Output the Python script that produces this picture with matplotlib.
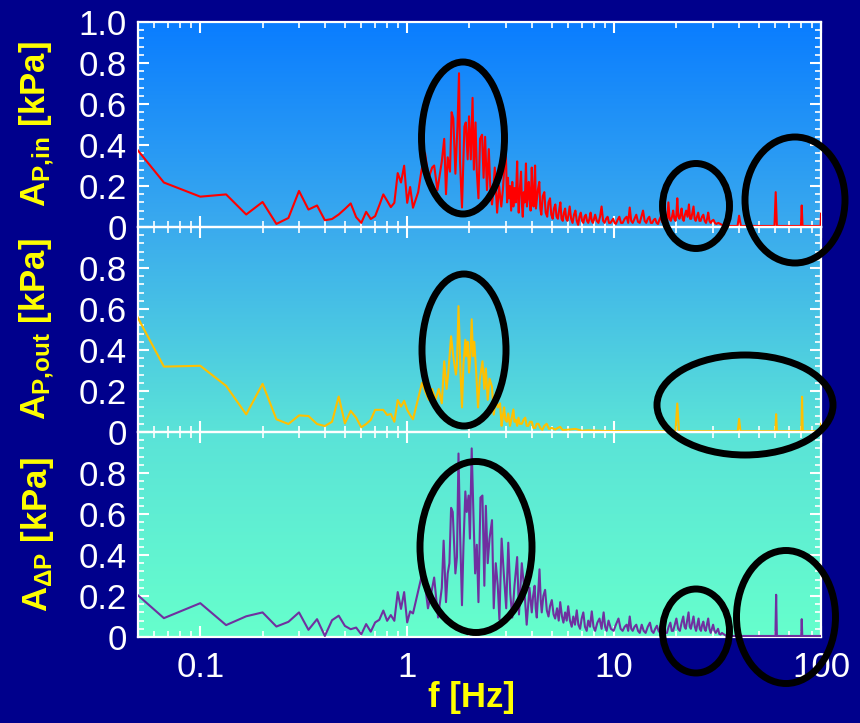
import numpy as np
import matplotlib.pyplot as plt
from matplotlib.patches import Ellipse
from matplotlib.ticker import MultipleLocator, LogLocator, NullFormatter, FuncFormatter
from matplotlib.colors import LinearSegmentedColormap

# frequency bins below ~1 Hz (shared by all three spectra)
f_low = [0.0333, 0.0667, 0.1, 0.1333, 0.1667, 0.2, 0.2333, 0.2667, 0.3, 0.3333,
         0.3667, 0.4, 0.4333, 0.4667, 0.5, 0.5333, 0.5667, 0.6, 0.6333, 0.6667,
         0.7, 0.7333, 0.7667, 0.8, 0.8333, 0.8667, 0.9, 0.9333, 0.9667, 1.0,
         1.0333, 1.0667]

a_in_low = [0.593, 0.217, 0.148, 0.159, 0.061, 0.122, 0.015, 0.044, 0.176, 0.085,
            0.105, 0.033, 0.039, 0.061, 0.088, 0.115, 0.048, 0.02, 0.074, 0.039,
            0.053, 0.106, 0.159, 0.128, 0.097, 0.118, 0.263, 0.217, 0.299, 0.118,
            0.195, 0.094]
a_out_low = [0.89, 0.319, 0.323, 0.225, 0.086, 0.235, 0.062, 0.039, 0.081, 0.078,
             0.039, 0.029, 0.05, 0.173, 0.042, 0.103, 0.07, 0.023, 0.039, 0.059,
             0.108, 0.108, 0.108, 0.083, 0.088, 0.05, 0.156, 0.124, 0.152, 0.108,
             0.083, 0.062]
a_dp_low = [0.36, 0.092, 0.165, 0.058, 0.101, 0.12, 0.051, 0.074, 0.12, 0.035,
            0.087, 0.005, 0.082, 0.104, 0.054, 0.038, 0.046, 0.013, 0.063, 0.026,
            0.071, 0.084, 0.129, 0.079, 0.107, 0.079, 0.219, 0.137, 0.219, 0.071,
            0.125, 0.115]

# (frequency Hz, amplitude kPa) above 1 Hz, P,in
in_hi = [
    (1.13, 0.17), (1.17, 0.27), (1.22, 0.36), (1.27, 0.24), (1.32, 0.29), (1.35, 0.30),
    (1.40, 0.18), (1.47, 0.32), (1.51, 0.43), (1.54, 0.16), (1.57, 0.34), (1.61, 0.27),
    (1.64, 0.56), (1.67, 0.53), (1.71, 0.26), (1.75, 0.49), (1.78, 0.75), (1.80, 0.32),
    (1.84, 0.095), (1.89, 0.49), (1.92, 0.51), (1.96, 0.33), (1.99, 0.54), (2.03, 0.33),
    (2.07, 0.63), (2.10, 0.28), (2.14, 0.51), (2.17, 0.27), (2.21, 0.14), (2.25, 0.43),
    (2.30, 0.45), (2.34, 0.24), (2.38, 0.44), (2.43, 0.18), (2.48, 0.38), (2.52, 0.20),
    (2.57, 0.11), (2.60, 0.16), (2.65, 0.29), (2.72, 0.07), (2.78, 0.20), (2.85, 0.10),
    (2.90, 0.18), (2.95, 0.30), (3.00, 0.35), (3.04, 0.12), (3.07, 0.24), (3.10, 0.14),
    (3.14, 0.20), (3.18, 0.08), (3.22, 0.22), (3.26, 0.10), (3.30, 0.19), (3.35, 0.12),
    (3.40, 0.32), (3.43, 0.15), (3.46, 0.07), (3.50, 0.18), (3.55, 0.27), (3.59, 0.10),
    (3.62, 0.05), (3.66, 0.17), (3.70, 0.12), (3.75, 0.31), (3.79, 0.10), (3.83, 0.14),
    (3.87, 0.22), (3.90, 0.16), (3.95, 0.08), (4.00, 0.29), (4.04, 0.15), (4.08, 0.10),
    (4.12, 0.20), (4.15, 0.30), (4.19, 0.09), (4.22, 0.12), (4.28, 0.18), (4.35, 0.22),
    (4.40, 0.09), (4.45, 0.06), (4.52, 0.15), (4.60, 0.17), (4.67, 0.07), (4.75, 0.05),
    (4.82, 0.12), (4.90, 0.14), (4.97, 0.06), (5.05, 0.04), (5.12, 0.09), (5.20, 0.11),
    (5.27, 0.05), (5.35, 0.04), (5.42, 0.08), (5.50, 0.12), (5.57, 0.04), (5.65, 0.03),
    (5.72, 0.07), (5.80, 0.09), (5.87, 0.04), (5.95, 0.03), (6.02, 0.06), (6.10, 0.10),
    (6.20, 0.04), (6.30, 0.02), (6.40, 0.06), (6.50, 0.08), (6.60, 0.03), (6.70, 0.01),
    (6.80, 0.05), (6.90, 0.07), (7.00, 0.03), (7.10, 0.02), (7.20, 0.05), (7.30, 0.06),
    (7.40, 0.03), (7.50, 0.02), (7.60, 0.04), (7.70, 0.07), (7.80, 0.03), (7.90, 0.02),
    (8.00, 0.04), (8.10, 0.06), (8.25, 0.03), (8.40, 0.02), (8.55, 0.05), (8.70, 0.10),
    (8.85, 0.03), (9.00, 0.02), (9.15, 0.04), (9.30, 0.05), (9.45, 0.02), (9.60, 0.02),
    (9.75, 0.03), (9.90, 0.04), (10.05, 0.02), (10.2, 0.015), (10.4, 0.035), (10.6, 0.05),
    (10.8, 0.02), (11.0, 0.02), (11.25, 0.04), (11.5, 0.05), (11.7, 0.02), (11.9, 0.095),
    (12.1, 0.03), (12.3, 0.02), (12.55, 0.04), (12.8, 0.06), (13.05, 0.025), (13.3, 0.02),
    (13.55, 0.05), (13.8, 0.08), (14.05, 0.03), (14.3, 0.02), (14.55, 0.04), (14.8, 0.05),
    (15.05, 0.02), (15.3, 0.02), (15.55, 0.035), (15.8, 0.04), (16.05, 0.02), (16.3, 0.015),
    (16.55, 0.035), (16.8, 0.05), (17.05, 0.025), (17.3, 0.02), (17.55, 0.04), (17.8, 0.06),
    (18.05, 0.03), (18.3, 0.12), (18.55, 0.04), (18.8, 0.03), (19.05, 0.05), (19.3, 0.08),
    (19.55, 0.04), (19.8, 0.03), (20.0, 0.06), (20.2, 0.14), (20.45, 0.05), (20.7, 0.04),
    (20.95, 0.06), (21.2, 0.09), (21.45, 0.04), (21.7, 0.03), (22.0, 0.06), (22.3, 0.08),
    (22.65, 0.05), (23.0, 0.11), (23.3, 0.04), (23.6, 0.04), (23.9, 0.07), (24.2, 0.10),
    (24.5, 0.04), (24.8, 0.03), (25.15, 0.05), (25.5, 0.07), (25.85, 0.03), (26.2, 0.03),
    (26.6, 0.05), (27.0, 0.06), (27.4, 0.03), (27.8, 0.02), (28.15, 0.04), (28.5, 0.07),
    (28.9, 0.03), (29.3, 0.02), (29.75, 0.03), (30.2, 0.035), (30.7, 0.02), (31.2, 0.015),
    (31.9, 0.02), (32.6, 0.015), (33.3, 0.01), (34.0, 0.008), (36.0, 0.005), (39.5, 0.005),
    (40.2, 0.055), (41.0, 0.005), (50.0, 0.005), (59.6, 0.005), (60.4, 0.17), (61.2, 0.005),
    (70.0, 0.005), (80.0, 0.005), (80.7, 0.105), (81.4, 0.005), (95.0, 0.005), (99.5, 0.005),
    (100.0, 0.065)]

# P,out above 1 Hz
out_hi = [
    (1.18, 0.24), (1.23, 0.19), (1.27, 0.157), (1.32, 0.21), (1.37, 0.157), (1.42, 0.21),
    (1.47, 0.14), (1.51, 0.345), (1.55, 0.21), (1.58, 0.29), (1.63, 0.467), (1.67, 0.37),
    (1.72, 0.28), (1.74, 0.33), (1.77, 0.614), (1.81, 0.29), (1.84, 0.12), (1.87, 0.33),
    (1.91, 0.45), (1.93, 0.37), (1.96, 0.44), (1.99, 0.29), (2.02, 0.37), (2.05, 0.55),
    (2.08, 0.37), (2.11, 0.44), (2.15, 0.31), (2.20, 0.12), (2.24, 0.25), (2.31, 0.345),
    (2.36, 0.21), (2.40, 0.31), (2.45, 0.157), (2.50, 0.26), (2.57, 0.22), (2.62, 0.085),
    (2.68, 0.157), (2.74, 0.12), (2.81, 0.14), (2.86, 0.03), (2.90, 0.08), (2.94, 0.12),
    (2.98, 0.06), (3.03, 0.05), (3.08, 0.09), (3.14, 0.03), (3.20, 0.07), (3.26, 0.11),
    (3.30, 0.05), (3.35, 0.06), (3.40, 0.03), (3.45, 0.07), (3.50, 0.04), (3.58, 0.04),
    (3.65, 0.06), (3.72, 0.07), (3.78, 0.03), (3.85, 0.03), (3.92, 0.05), (4.00, 0.05),
    (4.07, 0.02), (4.15, 0.02), (4.23, 0.04), (4.31, 0.04), (4.40, 0.02), (4.50, 0.01),
    (4.60, 0.03), (4.72, 0.04), (4.85, 0.015), (5.00, 0.02), (5.20, 0.012), (5.35, 0.02),
    (5.49, 0.025), (5.65, 0.008), (5.80, 0.01), (6.10, 0.012), (6.50, 0.015), (7.00, 0.006),
    (7.50, 0.008), (9.00, 0.005), (12.0, 0.004), (19.8, 0.004), (20.2, 0.139), (20.6, 0.004),
    (30.0, 0.004), (39.6, 0.004), (40.2, 0.064), (40.8, 0.004), (50.0, 0.004), (60.2, 0.004),
    (60.7, 0.087), (61.2, 0.004), (70.0, 0.004), (80.4, 0.004), (81.0, 0.172), (81.6, 0.004),
    (95.0, 0.004), (99.4, 0.004), (100.0, 0.04)]

# delta P above 1 Hz
dp_hi = [
    (1.17, 0.29), (1.21, 0.28), (1.26, 0.14), (1.31, 0.22), (1.35, 0.29), (1.41, 0.095),
    (1.47, 0.24), (1.50, 0.47), (1.54, 0.17), (1.57, 0.31), (1.60, 0.36), (1.63, 0.63),
    (1.66, 0.61), (1.71, 0.31), (1.74, 0.39), (1.77, 0.895), (1.80, 0.52), (1.84, 0.155),
    (1.87, 0.44), (1.91, 0.71), (1.94, 0.61), (1.98, 0.69), (2.01, 0.48), (2.05, 0.92),
    (2.09, 0.60), (2.13, 0.31), (2.17, 0.45), (2.21, 0.17), (2.26, 0.68), (2.31, 0.69),
    (2.36, 0.25), (2.40, 0.64), (2.45, 0.36), (2.50, 0.48), (2.57, 0.57), (2.62, 0.14),
    (2.68, 0.36), (2.74, 0.25), (2.79, 0.085), (2.86, 0.48), (2.93, 0.31), (3.01, 0.14),
    (3.08, 0.46), (3.15, 0.21), (3.22, 0.095), (3.30, 0.25), (3.40, 0.39), (3.47, 0.11),
    (3.58, 0.36), (3.69, 0.22), (3.78, 0.06), (3.90, 0.24), (4.00, 0.12), (4.06, 0.20),
    (4.13, 0.25), (4.18, 0.14), (4.23, 0.095), (4.30, 0.22), (4.36, 0.33), (4.42, 0.18),
    (4.47, 0.12), (4.55, 0.20), (4.64, 0.23), (4.73, 0.13), (4.82, 0.10), (4.90, 0.15),
    (5.00, 0.18), (5.10, 0.11), (5.19, 0.09), (5.30, 0.14), (5.40, 0.08), (5.49, 0.17),
    (5.60, 0.10), (5.69, 0.07), (5.80, 0.12), (5.90, 0.08), (6.00, 0.15), (6.12, 0.08),
    (6.24, 0.05), (6.35, 0.10), (6.47, 0.06), (6.60, 0.13), (6.72, 0.06), (6.85, 0.04),
    (6.97, 0.09), (7.10, 0.12), (7.23, 0.05), (7.37, 0.03), (7.50, 0.08), (7.65, 0.05),
    (7.80, 0.125), (7.95, 0.05), (8.10, 0.03), (8.30, 0.07), (8.50, 0.09), (8.70, 0.04),
    (8.90, 0.12), (9.05, 0.05), (9.20, 0.03), (9.40, 0.08), (9.65, 0.04), (9.95, 0.03),
    (10.2, 0.06), (10.5, 0.09), (10.75, 0.04), (11.0, 0.03), (11.25, 0.05), (11.5, 0.06),
    (11.7, 0.03), (11.9, 0.10), (12.1, 0.04), (12.3, 0.03), (12.55, 0.05), (12.8, 0.06),
    (13.05, 0.03), (13.3, 0.02), (13.6, 0.06), (13.9, 0.03), (14.2, 0.02), (14.55, 0.05),
    (14.9, 0.07), (15.2, 0.03), (15.5, 0.02), (15.8, 0.04), (16.1, 0.055), (16.4, 0.03),
    (16.7, 0.02), (17.0, 0.04), (17.3, 0.045), (17.65, 0.02), (18.0, 0.02), (18.35, 0.05),
    (18.7, 0.07), (19.0, 0.03), (19.3, 0.03), (19.65, 0.06), (20.0, 0.09), (20.4, 0.04),
    (20.8, 0.03), (21.2, 0.07), (21.6, 0.10), (21.9, 0.05), (22.2, 0.04), (22.55, 0.08),
    (22.9, 0.12), (23.2, 0.05), (23.5, 0.04), (23.85, 0.07), (24.2, 0.10), (24.55, 0.05),
    (24.9, 0.03), (25.25, 0.06), (25.6, 0.09), (25.95, 0.04), (26.3, 0.03), (26.65, 0.06),
    (27.0, 0.075), (27.35, 0.04), (27.7, 0.03), (28.1, 0.06), (28.5, 0.09), (28.9, 0.04),
    (29.3, 0.02), (29.7, 0.04), (30.1, 0.06), (30.55, 0.03), (31.0, 0.02), (31.4, 0.03),
    (31.8, 0.04), (32.25, 0.015), (32.7, 0.012), (33.2, 0.02), (33.7, 0.015), (35.0, 0.005),
    (45.0, 0.005), (60.2, 0.005), (60.7, 0.206), (61.2, 0.005), (75.0, 0.005), (80.2, 0.005),
    (80.7, 0.087), (81.2, 0.005), (100.0, 0.005)]

labels = [r'$\mathbf{A}_{\mathbf{P{,}in}}$ [kPa]',
          r'$\mathbf{A}_{\mathbf{P{,}out}}$ [kPa]',
          r'$\mathbf{A}_{\mathbf{\Delta P}}$ [kPa]']
line_colors = ['#ff0000', '#ffc000', '#7030a0']

# highlight ellipses: centre x, centre y, width, height in pixels from top-left
ellipses = [(463, 138, 83, 152), (696, 206, 67, 85), (795, 200, 100, 126),
            (464, 350, 84, 152), (745, 405, 176, 100),
            (476, 547, 112, 171), (696, 631, 67, 84), (786, 617, 99, 133)]

series = []
for low, hi in [(a_in_low, in_hi), (a_out_low, out_hi), (a_dp_low, dp_hi)]:
    series.append((f_low + [p[0] for p in hi], low + [p[1] for p in hi]))

plt.rcParams['font.family'] = ['Liberation Sans', 'DejaVu Sans']
plt.rcParams['mathtext.fontset'] = 'custom'
plt.rcParams['mathtext.rm'] = 'Liberation Sans'
plt.rcParams['mathtext.bf'] = 'Liberation Sans:bold'
plt.rcParams['mathtext.it'] = 'Liberation Sans:italic'

W, H = 860, 723
navy = '#00008c'
fig = plt.figure(figsize=(W / 100, H / 100), dpi=100, facecolor=navy)

left, right = 138 / W, 821 / W
bottom, top = 1 - 637 / H, 1 - 22 / H

# gradient background behind all panels
bg = fig.add_axes([left, bottom, right - left, top - bottom], zorder=0)
cmap = LinearSegmentedColormap.from_list(
    'bg', [(0.0, '#0a7dff'), (0.33, '#3aaaee'), (0.66, '#5ae2d8'), (1.0, '#66ffcc')])
bg.imshow(np.linspace(0, 1, 256)[:, None], aspect='auto', cmap=cmap,
          extent=[0, 1, 0, 1], origin='upper')
bg.axis('off')

ph = (top - bottom) / 3
for i in range(3):
    ax = fig.add_axes([left, top - (i + 1) * ph, right - left, ph], zorder=1)
    ax.set_facecolor('none')
    f, a = series[i]
    ax.plot(f, a, color=line_colors[i], lw=1.5, zorder=3)
    ax.set_xscale('log')
    ax.set_xlim(0.05, 100)
    ax.set_ylim(0, 1.0)
    ax.xaxis.set_major_locator(LogLocator(base=10, numticks=10))
    ax.xaxis.set_minor_locator(LogLocator(base=10, subs=np.arange(2, 10), numticks=20))
    ax.xaxis.set_minor_formatter(NullFormatter())
    if i == 0:
        ax.set_yticks([0, 0.2, 0.4, 0.6, 0.8, 1.0])
    else:
        ax.set_yticks([0, 0.2, 0.4, 0.6, 0.8])
    ax.yaxis.set_minor_locator(MultipleLocator(0.04))
    ax.yaxis.set_major_formatter(FuncFormatter(lambda v, p: '0' if v == 0 else f'{v:.1f}'))
    ax.tick_params(which='both', direction='in', colors='white', top=True, right=True)
    ax.tick_params(which='major', length=8, width=1.5, labelsize=25)
    ax.tick_params(which='minor', length=4.5, width=1.2)
    ax.tick_params(axis='y', pad=8)
    ax.tick_params(axis='x', pad=10)
    if i < 2:
        ax.tick_params(axis='x', labelbottom=False)
    else:
        ax.xaxis.set_major_formatter(FuncFormatter(lambda v, p: f'{v:g}'))
    for s in ax.spines.values():
        s.set_color('white')
        s.set_linewidth(1.6)
    ax.set_ylabel(labels[i], color='yellow', fontsize=25, fontweight='bold')
    ax.yaxis.set_label_coords(-0.12, 0.5)

fig.text(472 / W, 1 - 698 / H, 'f [Hz]', color='yellow', fontsize=25,
         fontweight='bold', ha='center', va='center')

for cx, cy, w, h in ellipses:
    fig.add_artist(Ellipse((cx / W, 1 - cy / H), w / W, h / H, transform=fig.transFigure,
                           fill=False, ec='black', lw=5, zorder=10))

fig.savefig('out.png', dpi=100, facecolor=navy)
